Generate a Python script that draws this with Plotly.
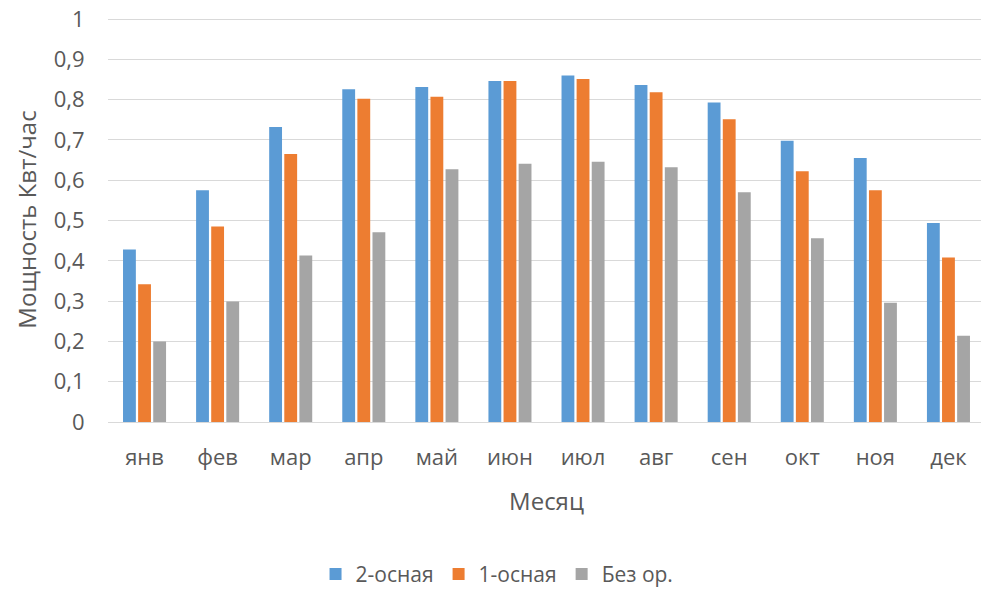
import plotly.graph_objects as go

months = ["янв", "фев", "мар", "апр", "май", "июн", "июл", "авг", "сен", "окт", "ноя", "дек"]
two_axis = [0.428, 0.575, 0.732, 0.826, 0.831, 0.846, 0.860, 0.836, 0.793, 0.698, 0.655, 0.494]
one_axis = [0.342, 0.485, 0.665, 0.802, 0.807, 0.846, 0.851, 0.818, 0.751, 0.622, 0.575, 0.408]
no_orient = [0.200, 0.299, 0.413, 0.471, 0.627, 0.641, 0.646, 0.632, 0.570, 0.456, 0.296, 0.214]
y_ticks = [0, 0.1, 0.2, 0.3, 0.4, 0.5, 0.6, 0.7, 0.8, 0.9, 1]
y_tick_labels = ["0", "0,1", "0,2", "0,3", "0,4", "0,5", "0,6", "0,7", "0,8", "0,9", "1"]

series_names = ["2-осная", "1-осная", "Без ор."]
colors = ["#5B9BD5", "#ED7D31", "#A5A5A5"]

fig = go.Figure()
for name, vals, col in zip(series_names, [two_axis, one_axis, no_orient], colors):
    fig.add_trace(go.Bar(x=months, y=vals, name=name, marker_color=col,
                         marker_line_width=0))

font_color = "#595959"
fam = "Open Sans, Segoe UI, sans-serif"
# page body has an 8px default margin, so the figure is sized to fit the window
fig.update_layout(
    width=981, height=582,
    margin=dict(l=100, r=4, t=9, b=168, autoexpand=False),
    paper_bgcolor="white", plot_bgcolor="white",
    separators=", ",
    barmode="group", bargap=0.38, bargroupgap=0.15,
    font=dict(family=fam, color=font_color, size=22),
    showlegend=True,
    legend=dict(orientation="h", x=0.4436, xanchor="center",
                y=-0.376, yanchor="middle",
                font=dict(size=21, color=font_color),
                traceorder="normal"),
    xaxis=dict(showgrid=False, showline=True, linecolor="#d9d9d9", linewidth=1,
               automargin=False,
               ticks="outside", ticklen=16, tickcolor="rgba(0,0,0,0)",
               tickfont=dict(size=22, color=font_color),
               title=dict(text="Месяц", font=dict(size=24, color=font_color), standoff=22)),
    yaxis=dict(range=[0, 1.005], tickmode="array", tickvals=y_ticks, ticktext=y_tick_labels,
               ticklabeloverflow="allow",
               showgrid=True, gridcolor="#d9d9d9", gridwidth=1,
               zeroline=False, showline=False, automargin=False,
               ticks="outside", ticklen=18, tickcolor="rgba(0,0,0,0)",
               tickfont=dict(size=22, color=font_color),
               title=dict(text="Мощность Квт/час", font=dict(size=24, color=font_color), standoff=10)),
)

fig.write_html("out.html")
